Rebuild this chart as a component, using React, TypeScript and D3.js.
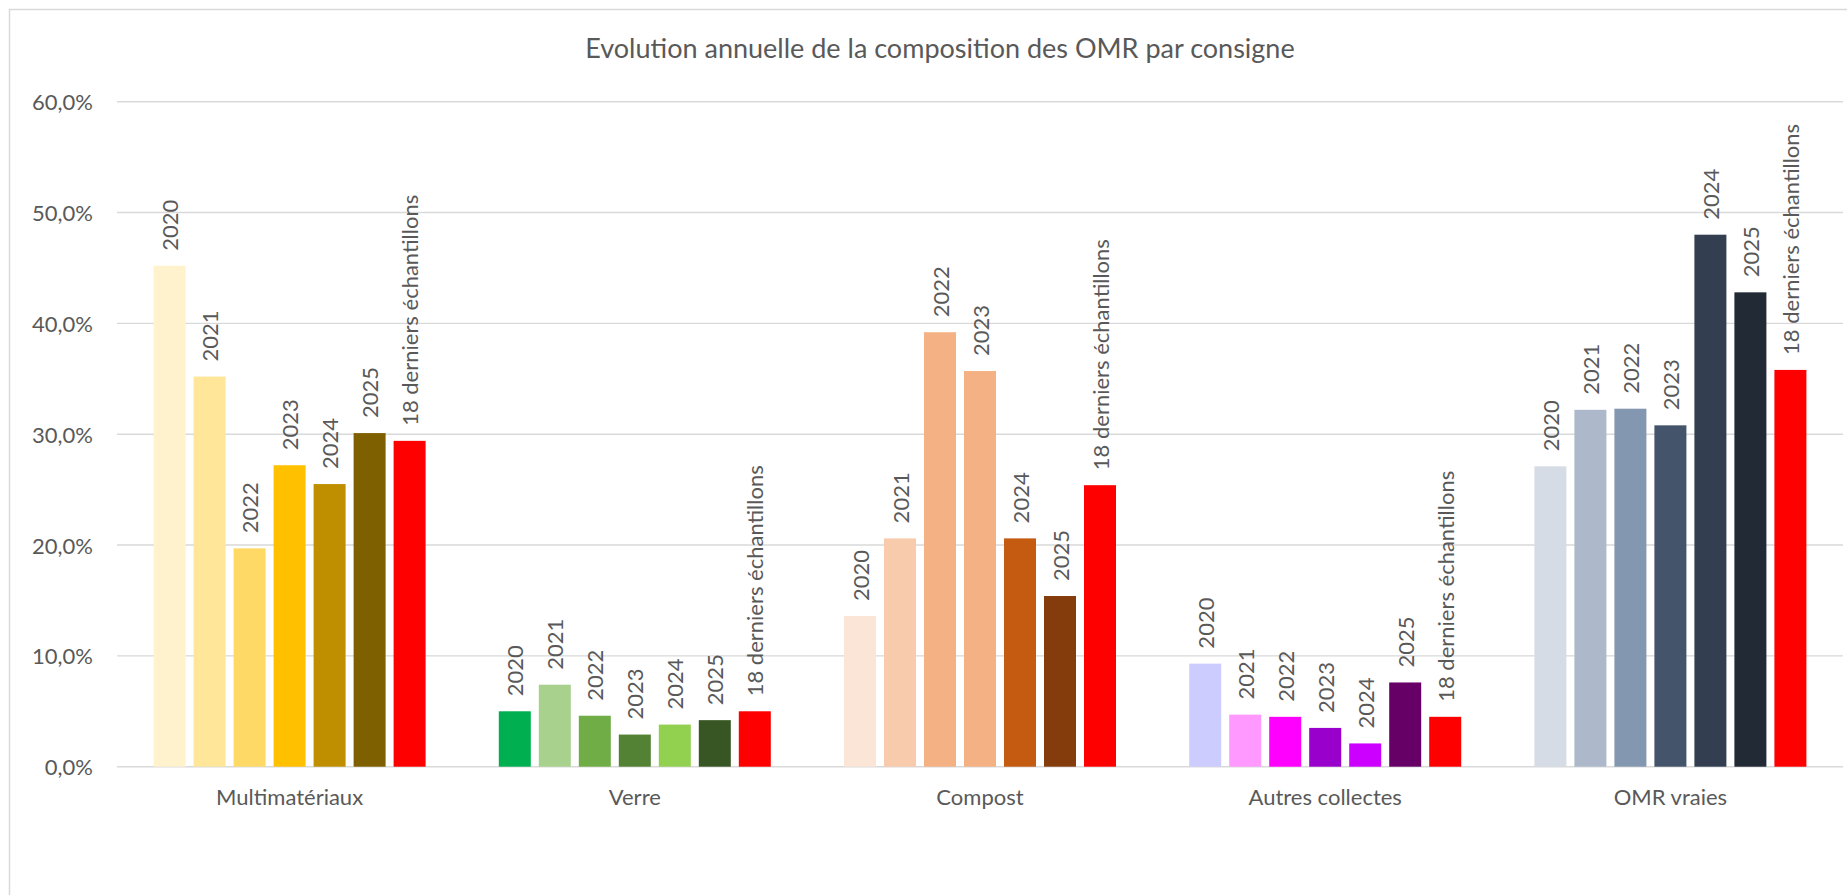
import React from "react";
import * as d3 from "d3";

// Categories (x axis) and series (one bar per series in each category)
const categories = ["Multimatériaux", "Verre", "Compost", "Autres collectes", "OMR vraies"];
const seriesLabels = ["2020", "2021", "2022", "2023", "2024", "2025", "18 derniers échantillons"];

// Values in %
const multimateriaux = [45.2, 35.2, 19.7, 27.2, 25.5, 30.1, 29.4];
const verre = [5.0, 7.4, 4.6, 2.9, 3.8, 4.2, 5.0];
const compost = [13.6, 20.6, 39.2, 35.7, 20.6, 15.4, 25.4];
const autresCollectes = [9.3, 4.7, 4.5, 3.5, 2.1, 7.6, 4.5];
const omrVraies = [27.1, 32.2, 32.3, 30.8, 48.0, 42.8, 35.8];

// Bar colours per category
const multiColors = ["#FFF2CC", "#FFE699", "#FFD966", "#FFC000", "#BF8F00", "#7F6000", "#FF0000"];
const verreColors = ["#00B050", "#A9D18E", "#70AD47", "#548235", "#92D050", "#375623", "#FF0000"];
const compostColors = ["#FBE5D6", "#F8CBAD", "#F4B183", "#F4B183", "#C55A11", "#843C0C", "#FF0000"];
const autresColors = ["#CCCCFF", "#FF99FF", "#FF00FF", "#9900CC", "#CC00FF", "#660066", "#FF0000"];
const omrColors = ["#D6DCE5", "#ADB9CA", "#8497B0", "#44546A", "#333F50", "#222A35", "#FF0000"];

const yTicks = [0, 10, 20, 30, 40, 50, 60];

const title = "Evolution annuelle de la composition des OMR par consigne";

const W = 1847;
const H = 895;
const FONT = "Lato, 'Open Sans', sans-serif";
const TEXT = "#595959";
const GRID = "#D9D9D9";
const FS = 22;

const App = () => {
  const values = [multimateriaux, verre, compost, autresCollectes, omrVraies];
  const colors = [multiColors, verreColors, compostColors, autresColors, omrColors];

  const margin = { left: 117, right: 4, top: 101.7, bottom: 128.3 };

  const x0 = d3
    .scaleBand<string>()
    .domain(categories)
    .range([margin.left, W - margin.right]);

  const groupWidth = seriesLabels.length * 40;
  const x1 = d3
    .scaleBand<string>()
    .domain(seriesLabels)
    .range([(x0.bandwidth() - groupWidth) / 2, (x0.bandwidth() + groupWidth) / 2])
    .paddingInner(0.2)
    .paddingOuter(0.1);

  const y = d3
    .scaleLinear()
    .domain([0, 60])
    .range([H - margin.bottom, margin.top]);

  const fmt = (v: number) => d3.format(".1f")(v).replace(".", ",") + "%";

  return (
    <svg
      width={W}
      height={H}
      style={{ position: "fixed", left: 0, top: 0, background: "#fff" }}
      fontFamily={FONT}
    >
      {/* chart area border (cropped on the right and bottom) */}
      <rect x={9.5} y={9.5} width={1900} height={1000} fill="#fff" stroke={GRID} strokeWidth={1.5} />

      <text x={940} y={58} textAnchor="middle" fontSize={27} fill={TEXT}>
        {title}
      </text>

      {/* gridlines + y labels */}
      {yTicks.map((t) => (
        <g key={t}>
          <line
            x1={margin.left}
            x2={W - margin.right}
            y1={y(t)}
            y2={y(t)}
            stroke={GRID}
            strokeWidth={1.4}
          />
          <text
            x={93}
            y={y(t)}
            textAnchor="end"
            dominantBaseline="central"
            fontSize={FS}
            fill={TEXT}
          >
            {fmt(t)}
          </text>
        </g>
      ))}

      {/* bars and rotated labels */}
      {categories.map((cat, ci) => (
        <g key={cat} transform={`translate(${x0(cat)},0)`}>
          {seriesLabels.map((s, si) => {
            const v = values[ci][si];
            const bx = x1(s) as number;
            const cx = bx + x1.bandwidth() / 2;
            const ty = y(v) - 15;
            return (
              <g key={s}>
                <rect
                  x={bx}
                  y={y(v)}
                  width={x1.bandwidth()}
                  height={y(0) - y(v)}
                  fill={colors[ci][si]}
                />
                <text
                  transform={`translate(${cx},${ty}) rotate(-90)`}
                  textAnchor="start"
                  dominantBaseline="central"
                  fontSize={FS}
                  fill={TEXT}
                >
                  {s}
                </text>
              </g>
            );
          })}
          <text
            x={x0.bandwidth() / 2}
            y={805}
            textAnchor="middle"
            fontSize={FS}
            fill={TEXT}
          >
            {cat}
          </text>
        </g>
      ))}
    </svg>
  );
};

export default App;
